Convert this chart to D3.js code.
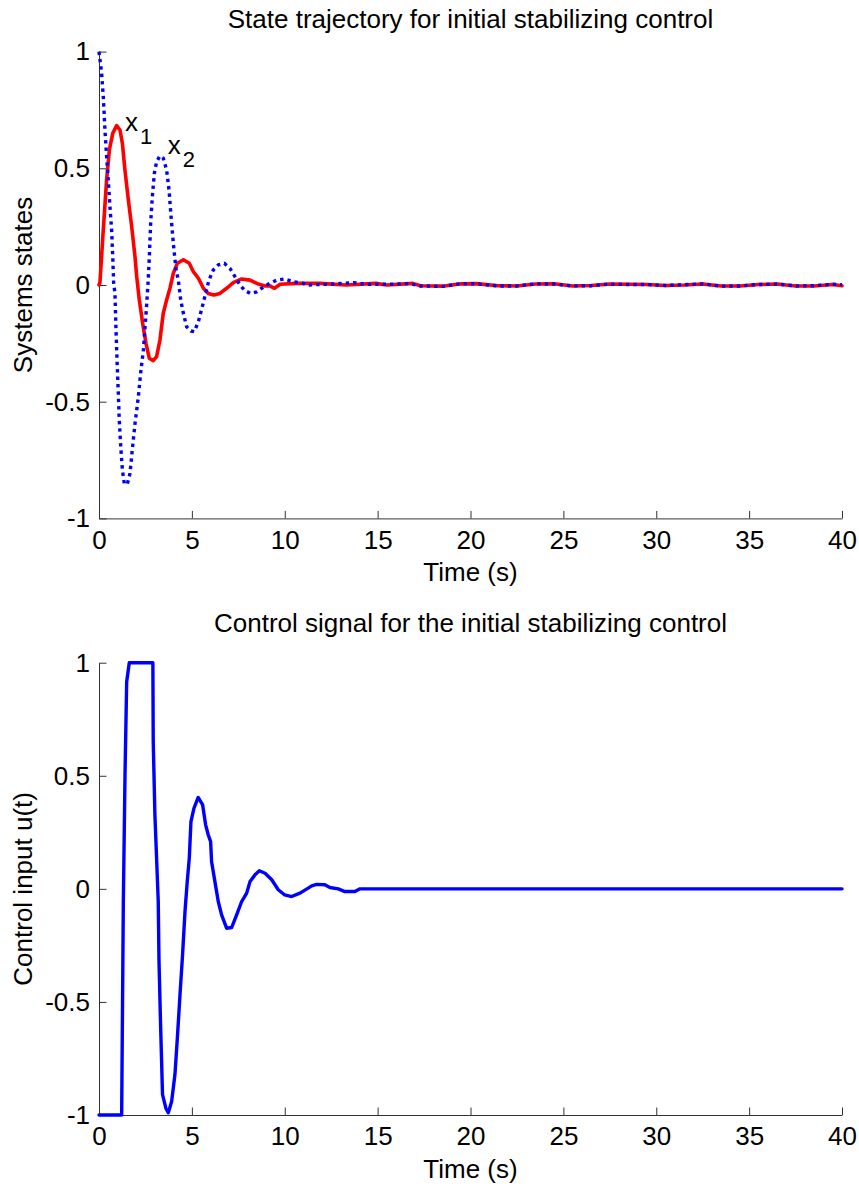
<!DOCTYPE html>
<html>
<head>
<meta charset="utf-8">
<script src="https://cdn.jsdelivr.net/npm/d3@7"></script>
<style>
  html, body { margin: 0; padding: 0; background: #fff; }
  svg { display: block; }
  text { font-family: "Liberation Sans", Arial, Helvetica, sans-serif; fill: #000; }
</style>
</head>
<body>
<svg id="chart" width="859" height="1188"></svg>
<script>
// ---------- data ----------
const xTicks = [0, 5, 10, 15, 20, 25, 30, 35, 40];
const yTicks = [-1, -0.5, 0, 0.5, 1];
const yTickLabels = ["-1", "-0.5", "0", "0.5", "1"];

const topTitle = "State trajectory for initial stabilizing control";
const bottomTitle = "Control signal for the initial stabilizing control";
const xLabel = "Time (s)";
const topYLabel = "Systems states";
const bottomYLabel = "Control input u(t)";

// x1 (red, solid)
const x1Time = [0, 0.05, 0.23, 0.41, 0.56, 0.74, 0.95, 1.13, 1.26, 1.4, 1.58, 1.76, 1.94, 2.03, 2.17, 2.35, 2.53, 2.71, 2.92, 3.1, 3.28, 3.46, 3.64, 3.82, 4.0, 4.22, 4.54, 4.86, 5.08, 5.35, 5.62, 5.88, 6.19, 6.51, 6.87, 7.23, 7.68, 8.13, 8.58, 8.94, 9.2, 9.45, 9.75, 10.6, 11.9, 13.3, 14.9, 15.5, 16.9, 17.3, 18.5, 19.5, 20.3, 21.5, 22.5, 23.5, 24.5, 25.5, 26.5, 27.5, 28.5, 29.5, 30.5, 31.5, 32.5, 33.5, 34.5, 35.5, 36.5, 37.5, 38.5, 39.5, 40];
const x1Values = [0, 0.01, 0.236, 0.45, 0.58, 0.65, 0.683, 0.664, 0.607, 0.49, 0.364, 0.25, 0.12, 0.036, -0.064, -0.164, -0.25, -0.314, -0.324, -0.307, -0.236, -0.121, -0.064, -0.014, 0.05, 0.093, 0.108, 0.093, 0.057, 0.029, -0.014, -0.036, -0.043, -0.036, -0.014, 0.01, 0.026, 0.021, 0.004, -0.004, -0.004, -0.014, 0.003, 0.007, 0.007, 0.0, 0.007, 0.0, 0.007, -0.003, -0.005, 0.005, 0.006, -0.003, -0.004, 0.004, 0.005, -0.004, -0.002, 0.004, 0.003, 0.002, -0.002, 0.0, 0.004, -0.004, -0.004, 0.002, 0.004, -0.004, -0.004, 0.002, -0.003];

// x2 (blue, dotted)
const x2Time = [0, 0.14, 0.23, 0.32, 0.41, 0.5, 0.59, 0.68, 0.74, 0.79, 0.86, 0.91, 0.97, 1.04, 1.09, 1.17, 1.26, 1.36, 1.52, 1.67, 1.79, 1.94, 2.12, 2.24, 2.39, 2.48, 2.57, 2.65, 2.71, 2.78, 2.87, 2.98, 3.1, 3.28, 3.46, 3.64, 3.77, 3.88, 4.0, 4.15, 4.27, 4.4, 4.54, 4.72, 4.95, 5.13, 5.35, 5.56, 5.74, 5.92, 6.15, 6.42, 6.75, 7.05, 7.32, 7.59, 7.86, 8.16, 8.49, 8.76, 9.12, 9.57, 9.98, 10.46, 11.0, 11.18, 12.25, 13.7, 14.4, 15.5, 16.7, 17.3, 18.5, 19.5, 20.3, 21.5, 22.5, 23.5, 24.5, 25.5, 26.5, 27.5, 28.5, 29.5, 30.5, 31.5, 32.5, 33.5, 34.5, 35.5, 36.5, 37.5, 38.5, 39.5, 40];
const x2Values = [1.0, 0.907, 0.807, 0.664, 0.55, 0.45, 0.335, 0.236, 0.121, 0.007, -0.036, -0.179, -0.321, -0.464, -0.578, -0.693, -0.793, -0.85, -0.854, -0.807, -0.707, -0.593, -0.478, -0.378, -0.278, -0.179, -0.079, 0.021, 0.121, 0.264, 0.378, 0.478, 0.528, 0.553, 0.543, 0.493, 0.407, 0.293, 0.179, 0.064, 0.021, -0.064, -0.121, -0.179, -0.197, -0.2, -0.157, -0.093, -0.036, 0.021, 0.064, 0.086, 0.093, 0.071, 0.036, 0.0, -0.024, -0.036, -0.029, -0.014, 0.004, 0.021, 0.026, 0.014, 0.007, 0.0, 0.003, 0.01, 0.003, 0.003, 0.006, -0.004, -0.006, 0.006, 0.005, -0.004, -0.004, 0.005, 0.004, -0.004, -0.003, 0.004, 0.002, 0.002, -0.002, 0.001, 0.005, -0.005, -0.004, 0.002, 0.004, -0.004, -0.003, 0.003, 0.001];

// control input u(t)
const uTime = [0, 1.22, 1.31, 1.4, 1.49, 1.63, 2.9, 2.92, 3.01, 3.19, 3.23, 3.32, 3.42, 3.6, 3.73, 3.91, 4.09, 4.23, 4.36, 4.5, 4.63, 4.75, 4.86, 4.95, 5.11, 5.34, 5.58, 5.74, 5.88, 6.01, 6.06, 6.24, 6.42, 6.6, 6.87, 7.14, 7.41, 7.68, 7.95, 8.13, 8.4, 8.63, 8.94, 9.3, 9.65, 10.0, 10.37, 10.82, 11.26, 11.45, 11.72, 12.16, 12.43, 12.88, 13.24, 13.78, 14.05, 40];
const uValues = [-1, -1, -0.056, 0.504, 0.916, 1, 1, 0.65, 0.327, -0.056, -0.32, -0.616, -0.91, -0.97, -0.99, -0.94, -0.82, -0.645, -0.469, -0.29, -0.1, 0.032, 0.135, 0.297, 0.356, 0.404, 0.371, 0.283, 0.239, 0.209, 0.121, 0.032, -0.056, -0.115, -0.174, -0.171, -0.115, -0.056, -0.019, 0.032, 0.062, 0.08, 0.069, 0.04, -0.004, -0.027, -0.034, -0.019, 0.003, 0.013, 0.02, 0.018, 0.006, 0.0, -0.012, -0.012, 0.0, 0.0];

// ---------- drawing ----------
const svg = d3.select("#chart");
const FONT = 26;
const axisColor = "#333";

const x = d3.scaleLinear().domain([0, 40]).range([99, 842]);

function drawPanel(cfg) {
  const y = d3.scaleLinear().domain([-1, 1]).range([cfg.bottom, cfg.top]);
  const g = svg.append("g");

  const xa = g.append("g")
    .attr("transform", `translate(0,${cfg.bottom})`)
    .call(d3.axisBottom(x).tickValues(xTicks).tickSizeInner(-7.5).tickSizeOuter(0).tickPadding(12).tickFormat(d3.format("d")));
  const ya = g.append("g")
    .attr("transform", `translate(${x(0)},0)`)
    .call(d3.axisLeft(y).tickValues(yTicks).tickSizeInner(-7.5).tickSizeOuter(0).tickPadding(9)
      .tickFormat(d => yTickLabels[yTicks.indexOf(d)]));
  [xa, ya].forEach(a => {
    a.selectAll("path.domain").attr("stroke", axisColor).attr("stroke-width", 1);
    a.selectAll(".tick line").attr("stroke", axisColor).attr("stroke-width", 1);
    a.selectAll(".tick text").attr("font-size", FONT).attr("font-family", "Liberation Sans, Arial, sans-serif").attr("fill", "#000");
  });

  g.append("text").attr("x", (x(0) + x(40)) / 2).attr("y", cfg.titleY)
    .attr("text-anchor", "middle").attr("font-size", FONT).text(cfg.title);
  g.append("text").attr("x", (x(0) + x(40)) / 2).attr("y", cfg.bottom + 63)
    .attr("text-anchor", "middle").attr("font-size", FONT).text(xLabel);
  g.append("text")
    .attr("transform", `translate(32,${(cfg.top + cfg.bottom) / 2}) rotate(-90)`)
    .attr("text-anchor", "middle").attr("font-size", FONT).text(cfg.yLabel);

  cfg.series.forEach(s => {
    const pts = s.t.map((t, i) => [t, s.v[i]]);
    const line = d3.line().x(d => x(d[0])).y(d => y(d[1]));
    const p = g.append("path").datum(pts)
      .attr("d", line)
      .attr("fill", "none")
      .attr("stroke", s.color)
      .attr("stroke-width", s.width)
      .attr("stroke-linejoin", "round");
    if (s.dash) p.attr("stroke-dasharray", s.dash).attr("stroke-linecap", "butt");
    else p.attr("stroke-linecap", "round");
  });
  return y;
}

const yTop = drawPanel({
  top: 51.6, bottom: 518.4, titleY: 28,
  title: topTitle, yLabel: topYLabel,
  series: [
    { t: x1Time, v: x1Values, color: "#ff0000", width: 3.6 },
    { t: x2Time, v: x2Values, color: "#0000ff", width: 3.4, dash: "3.4,4" }
  ]
});

drawPanel({
  top: 662.7, bottom: 1115, titleY: 632,
  title: bottomTitle, yLabel: bottomYLabel,
  series: [
    { t: uTime, v: uValues, color: "#0000ff", width: 3.4 }
  ]
});

function subLabel(px, py, main, sub) {
  const t = svg.append("text").attr("x", px).attr("y", py).attr("font-size", FONT);
  t.append("tspan").text(main);
  t.append("tspan").attr("font-size", 22).attr("dy", 13).attr("dx", 2).text(sub);
}
subLabel(x(1.4), yTop(0.66), "x", "1");
subLabel(x(3.7), yTop(0.56), "x", "2");
</script>
</body>
</html>
